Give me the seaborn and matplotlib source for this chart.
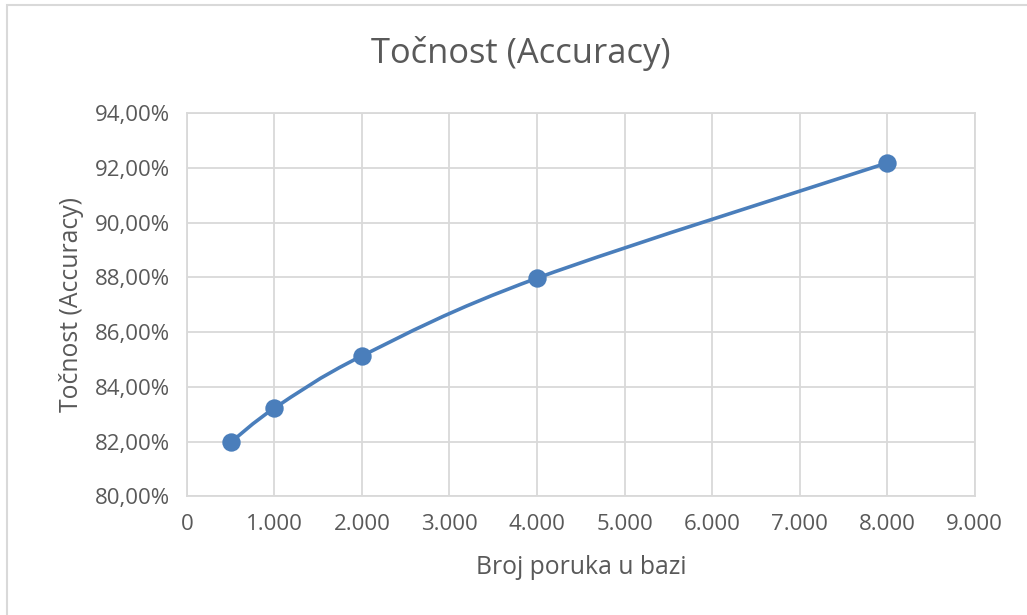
import matplotlib
matplotlib.use("Agg")
import matplotlib.pyplot as plt
from matplotlib.path import Path
from matplotlib.patches import PathPatch, Rectangle
import numpy as np
import pandas as pd
import seaborn as sns

# ---------- data ----------
broj_poruka = [500, 1000, 2000, 4000, 8000]
tocnost = [81.97, 83.22, 85.13, 87.97, 92.18]   # percent

x_ticks = [0, 1000, 2000, 3000, 4000, 5000, 6000, 7000, 8000, 9000]
y_ticks = [80, 82, 84, 86, 88, 90, 92, 94]

LINE = "#4a7ebb"
TEXT = "#595959"
GRID = "#d9d9d9"

sns.set_theme(style="white")
plt.rcParams["font.family"] = ["Open Sans", "DejaVu Sans"]

df = pd.DataFrame({"broj": broj_poruka, "tocnost": tocnost})

fig = plt.figure(figsize=(10.27, 6.15), dpi=100)
ax = fig.add_axes([0.182, 0.193, 0.767, 0.623])

# smoothed line (Excel-like Catmull-Rom bezier through the points)
pts = np.column_stack([df["broj"], df["tocnost"]]).astype(float)
ext = np.vstack([pts[0], pts, pts[-1]])
verts = [tuple(pts[0])]
codes = [Path.MOVETO]
for i in range(len(pts) - 1):
    p0, p1, p2, p3 = ext[i], ext[i + 1], ext[i + 2], ext[i + 3]
    c1 = p1 + (p2 - p0) / 6
    c2 = p2 - (p3 - p1) / 6
    verts += [tuple(c1), tuple(c2), tuple(p2)]
    codes += [Path.CURVE4] * 3
ax.add_patch(PathPatch(Path(verts, codes), facecolor="none", edgecolor=LINE,
                       linewidth=2.6, capstyle="round", zorder=3))

sns.scatterplot(data=df, x="broj", y="tocnost", ax=ax, s=175, color=LINE,
                edgecolor=LINE, linewidth=0, zorder=4, legend=False)

ax.set_xlim(0, 9000)
ax.set_ylim(80, 94)
ax.set_xticks(x_ticks)
ax.set_xticklabels([f"{v:,}".replace(",", ".") for v in x_ticks])
ax.set_yticks(y_ticks)
ax.set_yticklabels([f"{v:.2f}%".replace(".", ",") for v in y_ticks])
ax.tick_params(axis="both", length=0, labelsize=16, labelcolor=TEXT)
ax.tick_params(axis="x", pad=13)
ax.tick_params(axis="y", pad=12)

ax.grid(True, color=GRID, linewidth=1.3)
ax.set_axisbelow(True)
for s in ax.spines.values():
    s.set_color(GRID)
    s.set_linewidth(1.3)

ax.set_xlabel("Broj poruka u bazi", fontsize=17.8, color=TEXT, labelpad=14)
ax.set_ylabel("Točnost (Accuracy)", fontsize=17.8, color=TEXT, labelpad=8)
fig.text(0.507, 0.913, "Točnost (Accuracy)", fontsize=24.8, color=TEXT,
         ha="center", va="center")

# outer chart border (only top/left visible in the crop)
fig.patches.append(Rectangle((7 / 1027, -0.1), 1.2, 1.1 - 5 / 615,
                             transform=fig.transFigure, fill=False,
                             edgecolor=GRID, linewidth=1.5))

fig.savefig("out.png", dpi=100)
